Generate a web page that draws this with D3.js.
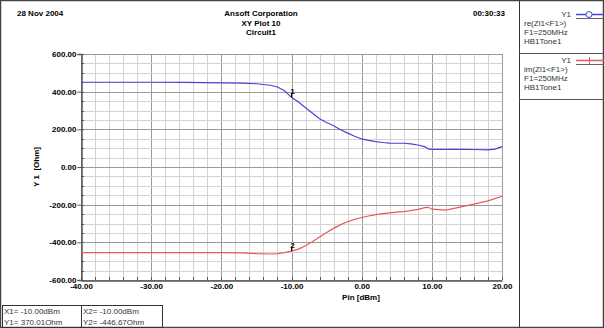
<!DOCTYPE html>
<html>
<head>
<meta charset="utf-8">
<script src="https://cdn.jsdelivr.net/npm/d3@7"></script>
<style>
  body { margin: 0; background: #fff; }
  svg text { font-family: "Liberation Sans", Arial, sans-serif; }
</style>
</head>
<body>
<script>
// sweep of input power, dBm
var pin = [-40, -30, -25, -20, -17, -15, -13, -12, -11, -10, -9, -8, -7, -6, -5, -4, -3, -2, -1, 0,
           1, 2, 3, 4, 5, 6, 7, 8, 9, 9.5, 10, 12, 14, 16, 18, 19, 20];
// re(Zl1<F1>) in Ohm
var reZ = [450, 450, 449, 447, 445, 442, 434, 425, 405, 370, 345, 315, 285, 256, 236, 219, 198, 180, 163, 149,
           141, 135, 130, 127, 126, 126, 123, 117, 108, 96, 94, 94, 94, 93, 91, 95, 108];
// im(Zl1<F1>) in Ohm
var imZ = [-455, -455, -455, -455, -456, -460, -462, -460, -455, -447, -436, -418, -396, -372, -348, -326, -306, -291, -278, -268,
           -260, -253, -248, -244, -240, -237, -232, -225, -216, -214, -224, -229, -213, -197, -180, -168, -155];

var xTicks = [-40, -30, -20, -10, 0, 10, 20];
var yTicks = [-600, -400, -200, 0, 200, 400, 600];
var markers = [{name: "1", x: -10, y: 370.01}, {name: "2", x: -10, y: -446.67}];

var W = 604, H = 328;
var svg = d3.select("body").append("svg").attr("width", W).attr("height", H);

var x = d3.scaleLinear().domain([-40, 20]).range([81, 502]);
var y = d3.scaleLinear().domain([-600, 600]).range([280, 54]);
var fmt = function(d) { return d.toFixed(2); };

// outer frame + legend panel
svg.append("rect").attr("x", 0.5).attr("y", 0.5).attr("width", W - 1).attr("height", H - 1)
  .attr("fill", "none").attr("stroke", "#444").attr("stroke-width", 1.5);
svg.append("line").attr("x1", 519.5).attr("x2", 519.5).attr("y1", 0).attr("y2", H).attr("stroke", "#333");

// header
var hdr = svg.append("g").attr("font-size", 8).attr("font-weight", "bold").attr("fill", "#000");
hdr.append("text").attr("x", 17).attr("y", 16).text("28 Nov 2004");
hdr.append("text").attr("x", 505).attr("y", 16).attr("text-anchor", "end").text("00:30:33");
hdr.append("text").attr("x", 261).attr("y", 16).attr("text-anchor", "middle").text("Ansoft Corporation");
hdr.append("text").attr("x", 261).attr("y", 25.5).attr("text-anchor", "middle").text("XY Plot 10");
hdr.append("text").attr("x", 261).attr("y", 35).attr("text-anchor", "middle").text("Circuit1");

// grid
var minorX = d3.range(-40, 20.1, 2), minorY = d3.range(-600, 600.1, 50);
var grid = svg.append("g");
grid.selectAll(".mx").data(minorX).enter().append("line")
  .attr("x1", d => Math.round(x(d)) + 0.5).attr("x2", d => Math.round(x(d)) + 0.5)
  .attr("y1", y(-600)).attr("y2", y(600))
  .attr("stroke", d => d % 10 === 0 ? "#9a9a9a" : "#d4d4d4");
grid.selectAll(".my").data(minorY).enter().append("line")
  .attr("y1", d => Math.round(y(d)) + 0.5).attr("y2", d => Math.round(y(d)) + 0.5)
  .attr("x1", x(-40)).attr("x2", x(20))
  .attr("stroke", d => d % 200 === 0 ? "#9a9a9a" : "#d4d4d4");

// axes
var yAxis = svg.append("g").attr("transform", "translate(" + (x(-40) + 0.5) + ",0)")
  .call(d3.axisLeft(y).tickValues(yTicks).tickSize(4).tickPadding(1).tickFormat(fmt));
var xAxis = svg.append("g").attr("transform", "translate(0," + (y(-600) + 0.5) + ")")
  .call(d3.axisBottom(x).tickValues(xTicks).tickSize(0).tickPadding(3).tickFormat(fmt));
[yAxis, xAxis].forEach(function(a) {
  a.select(".domain").attr("stroke", "#555").attr("stroke-width", 1.5);
  a.selectAll("text").attr("font-size", 8).attr("font-weight", "bold").attr("fill", "#000")
    .style("font-family", "'Liberation Sans', Arial, sans-serif");
  a.selectAll(".tick line").attr("stroke", "#555");
});
// minor tick marks on axes
svg.append("g").selectAll("line").data(minorY).enter().append("line")
  .attr("x1", x(-40)).attr("x2", x(-40) + 3)
  .attr("y1", d => Math.round(y(d)) + 0.5).attr("y2", d => Math.round(y(d)) + 0.5).attr("stroke", "#555");
svg.append("g").selectAll("line").data(minorX).enter().append("line")
  .attr("y1", y(-600)).attr("y2", y(-600) - 3)
  .attr("x1", d => Math.round(x(d)) + 0.5).attr("x2", d => Math.round(x(d)) + 0.5).attr("stroke", "#555");

// axis titles
svg.append("text").attr("x", 361).attr("y", 300).attr("text-anchor", "middle")
  .attr("font-size", 8).attr("font-weight", "bold").text("Pin [dBm]");
svg.append("text").attr("transform", "translate(39,167) rotate(-90)").attr("text-anchor", "middle")
  .attr("font-size", 8).attr("font-weight", "bold").attr("xml:space", "preserve").text("Y 1  [Ohm]");

// traces
var line = d3.line().x((d, i) => x(pin[i])).y(d => y(d));
svg.append("path").datum(reZ).attr("d", line).attr("fill", "none").attr("stroke", "#4646d2").attr("stroke-width", 1.2);
svg.append("path").datum(imZ).attr("d", line).attr("fill", "none").attr("stroke", "#e65a5a").attr("stroke-width", 1.2);

// markers
var mk = svg.append("g").selectAll("g").data(markers).enter().append("g");
mk.append("line").attr("x1", d => x(d.x)).attr("x2", d => x(d.x))
  .attr("y1", d => y(d.y) - 4).attr("y2", d => y(d.y)).attr("stroke", "#000");
mk.append("text").attr("x", d => x(d.x) + 1).attr("y", d => y(d.y) - 3).attr("text-anchor", "middle")
  .attr("font-size", 8).attr("font-weight", "bold").text(d => d.name);

// legend
var legend = [
  {top: 0, color: "#4646d2", sym: "circle", lines: ["re(Zl1<F1>)", "F1=250MHz", "HB1Tone1"]},
  {top: 46, color: "#e65a5a", sym: "tick", lines: ["im(Zl1<F1>)", "F1=250MHz", "HB1Tone1"]}
];
var lg = svg.append("g").selectAll("g").data(legend).enter().append("g")
  .attr("transform", d => "translate(0," + d.top + ")");
lg.append("text").attr("x", 571).attr("y", 17).attr("text-anchor", "end").attr("font-size", 8).attr("fill", "#333").text("Y1");
lg.append("line").attr("x1", 576).attr("x2", 604).attr("y1", 14.5).attr("y2", 14.5).attr("stroke", d => d.color).attr("stroke-width", 1.5);
lg.append("line").attr("x1", 576).attr("x2", 604).attr("y1", 18.5).attr("y2", 18.5).attr("stroke", "#666");
lg.filter(d => d.sym === "circle").append("circle").attr("cx", 589).attr("cy", 14.5).attr("r", 3)
  .attr("fill", "#fff").attr("stroke", d => d.color);
lg.filter(d => d.sym === "tick").append("line").attr("x1", 589.5).attr("x2", 589.5).attr("y1", 11).attr("y2", 18)
  .attr("stroke", d => d.color);
lg.each(function(d) {
  d3.select(this).selectAll(".lt").data(d.lines).enter().append("text")
    .attr("x", 524).attr("y", (t, i) => 26 + i * 9).attr("font-size", 8).attr("fill", "#333").text(t => t);
});
lg.append("line").attr("x1", 519).attr("x2", 604).attr("y1", 53.5).attr("y2", 53.5).attr("stroke", "#555");

// marker readout box
var box = svg.append("g");
box.append("rect").attr("x", 2.5).attr("y", 305.5).attr("width", 160).attr("height", 22).attr("fill", "none").attr("stroke", "#333");
box.append("line").attr("x1", 81.5).attr("x2", 81.5).attr("y1", 305).attr("y2", 328).attr("stroke", "#333");
var readout = [["X1= -10.00dBm", "Y1= 370.01Ohm"], ["X2= -10.00dBm", "Y2= -446.67Ohm"]];
readout.forEach(function(col, c) {
  box.selectAll(".r" + c).data(col).enter().append("text")
    .attr("x", 4 + c * 79).attr("y", (t, i) => 314 + i * 11).attr("font-size", 8).attr("fill", "#333").text(t => t);
});
</script>
</body>
</html>
